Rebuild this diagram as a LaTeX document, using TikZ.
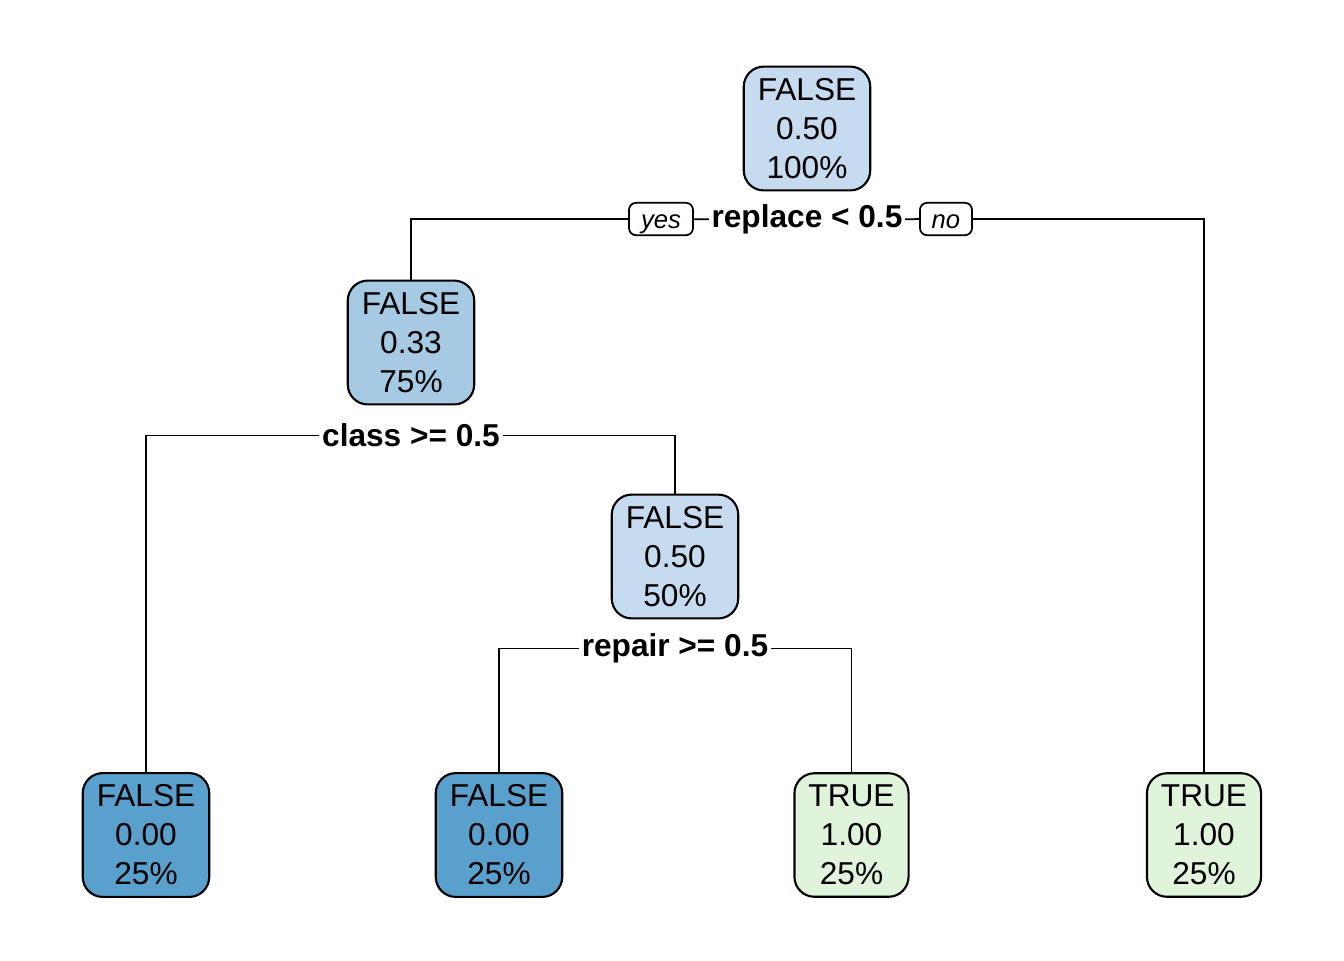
\documentclass[tikz,border=0pt]{standalone}
\usepackage{fontspec}
\setmainfont{Liberation Sans}
\usetikzlibrary{positioning}

\definecolor{bluepale}{HTML}{C6DBEF}
\definecolor{bluemid}{HTML}{A6CAE3}
\definecolor{bluedeep}{HTML}{5AA0CD}
\definecolor{greenpale}{HTML}{E0F3DB}

\begin{document}
\begin{tikzpicture}[
				treenode/.style={draw, line width=0.6pt, rounded corners=0.2cm, align=center, inner xsep=0.14cm, minimum height=1.22cm, font=\fontsize{9}{11.1}\selectfont},
				splitlabel/.style={inner sep=0.6pt, font=\fontsize{9}{11.1}\selectfont\bfseries},
				answer/.style={draw, line width=0.5pt, rounded corners=2pt, minimum height=0.32cm, inner xsep=0.1cm, inner ysep=0pt, text height=0.72em, text depth=0.2em, font=\fontsize{7.3}{8}\selectfont\itshape},
				branch/.style={line width=0.5pt}
			]
				\useasboundingbox (0,0) rectangle (13.44,-9.6);

				\node[treenode, fill=bluepale] (root) at (8.07,-1.285) {FALSE\\0.50\\100\%};
				\node[treenode, fill=bluemid] (left) at (4.11,-3.425) {FALSE\\0.33\\75\%};
				\node[treenode, fill=bluepale] (mid) at (6.75,-5.565) {FALSE\\0.50\\50\%};
				\node[treenode, fill=bluedeep] (leafa) at (1.46,-8.35) {FALSE\\0.00\\25\%};
				\node[treenode, fill=bluedeep] (leafb) at (4.99,-8.35) {FALSE\\0.00\\25\%};
				\node[treenode, fill=greenpale] (leafc) at (8.515,-8.35) {TRUE\\1.00\\25\%};
				\node[treenode, fill=greenpale] (leafd) at (12.04,-8.35) {TRUE\\1.00\\25\%};

				\node[splitlabel] (replace) at (8.07,-2.195) {replace < 0.5};
				\node[answer, minimum width=0.64cm] (yes) at (6.61,-2.19) {yes};
				\node[answer, minimum width=0.52cm] (no) at (9.46,-2.19) {no};
				\node[splitlabel] (class) at (4.11,-4.355) {class >= 0.5};
				\node[splitlabel] (repair) at (6.75,-6.485) {repair >= 0.5};

				\draw[branch] (yes) -- (replace);
				\draw[branch] (replace) -- (no);
				\draw[branch] (yes.west) -| (left.north);
				\draw[branch] (no.east) -| (leafd.north);
				\draw[branch] (class.west) -| (leafa.north);
				\draw[branch] (class.east) -| (mid.north);
				\draw[branch] (repair.west) -| (leafb.north);
				\draw[branch] (repair.east) -| (leafc.north);
			\end{tikzpicture}
\end{document}
